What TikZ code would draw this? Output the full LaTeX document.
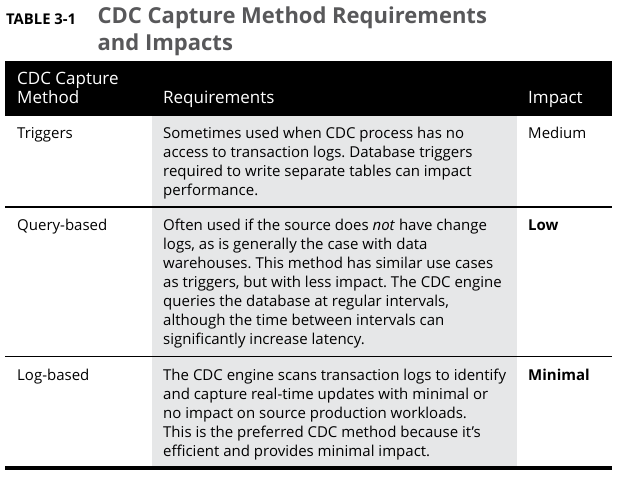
\documentclass[tikz,border=0pt]{standalone}
\usepackage{fontspec}
\setmainfont{Open Sans}
\frenchspacing
\definecolor{titlegray}{RGB}{88,88,90}
\definecolor{colgray}{RGB}{230,231,232}
\newcommand{\tlines}[1]{\begin{tabular}[t]{@{}l@{}}#1\end{tabular}}
\begin{document}
\begin{tikzpicture}[x=1pt,y=-1pt,
  cell/.style={anchor=base west,inner sep=0pt,font=\fontsize{15}{19}\selectfont},
  boldcell/.style={cell,font=\fontsize{15}{19}\selectfont\bfseries},
  headcell/.style={anchor=base west,inner sep=0pt,text=white,font=\fontsize{17}{19}\selectfont},
  rule/.style={line width=1.2pt},
]
\useasboundingbox[fill=white] (0,0) rectangle (617,481);
% backgrounds
\fill[colgray] (152,116) rectangle (517,466);
\fill[black] (5,61) rectangle (612,116);
\draw[rule] (5,207) -- (612,207);
\draw[rule] (5,356.5) -- (612,356.5);
\fill[black] (5,466) rectangle (612,470);
% title
\node[anchor=base west,inner sep=0pt,font=\fontsize{14.8}{19}\selectfont\bfseries] (tlabel) at (6,24.3) {TABLE 3-1};
\node[anchor=base west,inner sep=0pt,text=titlegray,font=\fontsize{22}{27}\selectfont\bfseries] (title) at (97.5,23.3) {\tlines{CDC Capture Method Requirements\\and Impacts}};
% header
\node[headcell] (h1) at (17,85) {\tlines{CDC Capture\\Method}};
\node[headcell] (h2) at (163,104) {Requirements};
\node[headcell] (h3) at (528,104) {Impact};
% row 1
\node[cell] (m1) at (17,139) {Triggers};
\node[cell] (r1) at (163,139) {\tlines{Sometimes used when CDC process has no\\access to transaction logs. Database triggers\\required to write separate tables can impact\\performance.}};
\node[cell] (i1) at (528,139) {Medium};
% row 2
\node[cell] (m2) at (17,230) {Query-based};
\node[cell] (r2) at (163,230) {\tlines{Often used if the source does \textit{not} have change\\logs, as is generally the case with data\\warehouses. This method has similar use cases\\as triggers, but with less impact. The CDC engine\\queries the database at regular intervals,\\although the time between intervals can\\significantly increase latency.}};
\node[boldcell] (i2) at (528,230) {Low};
% row 3
\node[cell] (m3) at (17,380) {Log-based};
\node[cell] (r3) at (163,380) {\tlines{The CDC engine scans transaction logs to identify\\and capture real-time updates with minimal or\\no impact on source production workloads.\\This is the preferred CDC method because it’s\\efficient and provides minimal impact.}};
\node[boldcell] (i3) at (528,380) {Minimal};
\end{tikzpicture}
\end{document}
